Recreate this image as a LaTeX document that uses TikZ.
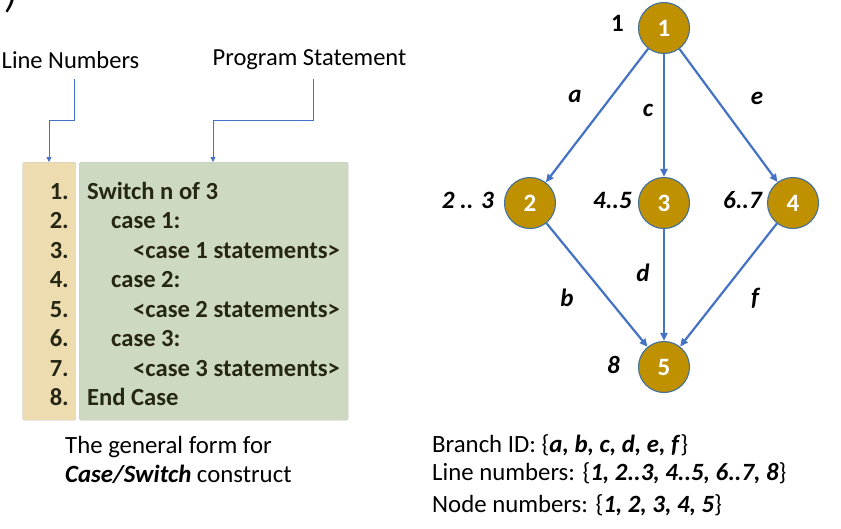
\documentclass[tikz,border=0pt]{standalone}
\usepackage{fontspec}
\setmainfont{Carlito}
\usetikzlibrary{arrows.meta}
\definecolor{tanbox}{RGB}{236,220,176}
\definecolor{greenbox}{RGB}{205,218,193}
\definecolor{boxline}{RGB}{200,200,200}
\definecolor{codetext}{RGB}{38,38,20}
\definecolor{edgeblue}{RGB}{68,114,196}
\definecolor{nodegold}{RGB}{191,144,0}
\definecolor{nodeline}{RGB}{65,113,156}
\tikzset{
  codefont/.style={font=\fontsize{24.6}{28}\selectfont\bfseries, text=codetext, inner sep=0pt},
  numtext/.style={codefont, anchor=base east},
  stmt/.style={codefont, anchor=base west},
  plaintext/.style={font=\fontsize{24.8}{28}\selectfont, inner sep=0pt},
  callout/.style={draw=edgeblue, line width=0.8pt, -{Triangle[length=5pt,width=5pt]}},
  gnode/.style={circle, fill=nodegold, draw=nodeline, line width=1.1pt, minimum size=51pt, inner sep=0pt, text=white, font=\fontsize{25}{28}\selectfont\bfseries},
  gedge/.style={draw=edgeblue, line width=2.2pt, -{Triangle[length=8pt,width=7pt]}},
  elabel/.style={font=\fontsize{25}{28}\selectfont\bfseries\itshape, inner sep=0pt},
  linelabel/.style={font=\fontsize{25}{28}\selectfont\bfseries\itshape, inner sep=0pt, anchor=base east},
}
\begin{document}
\begin{tikzpicture}[x=1pt,y=-1pt]
\useasboundingbox (0,0) rectangle (841,528);
% cut-off parenthesis at top
\node[font=\fontsize{40}{44}\selectfont\itshape, inner sep=0pt, anchor=base] (paren) at (12,7) {)};
% boxes
\node[draw=boxline, fill=tanbox, rounded corners=1.5pt, minimum width=53pt, minimum height=258pt, inner sep=0pt, anchor=north west] (numbox) at (22.5,162) {};
\node[draw=boxline, fill=greenbox, rounded corners=1.5pt, minimum width=269pt, minimum height=258pt, inner sep=0pt, anchor=north west] (stmtbox) at (79,162) {};
% line numbers
\node[numtext] (n1) at (69,199) {1.};
\node[numtext] (n2) at (69,228.5) {2.};
\node[numtext] (n3) at (69,258) {3.};
\node[numtext] (n4) at (69,287.5) {4.};
\node[numtext] (n5) at (69,317) {5.};
\node[numtext] (n6) at (69,346.5) {6.};
\node[numtext] (n7) at (69,376) {7.};
\node[numtext] (n8) at (69,405.5) {8.};
% statements
\node[stmt] (s1) at (87,199) {Switch n of 3};
\node[stmt] (s2) at (111,228.5) {case 1:};
\node[stmt] (s3) at (133,258) {<case 1 statements>};
\node[stmt] (s4) at (111,287.5) {case 2:};
\node[stmt] (s5) at (133,317) {<case 2 statements>};
\node[stmt] (s6) at (111,346.5) {case 3:};
\node[stmt] (s7) at (133,376) {<case 3 statements>};
\node[stmt] (s8) at (87,405.5) {End Case};
% callout labels
\node[plaintext, font=\fontsize{24.5}{28}\selectfont] (lnlab) at (70.5,60) {Line Numbers};
\node[plaintext, font=\fontsize{24.5}{28}\selectfont] (pslab) at (309.5,60) {Program Statement};
\coordinate (lnstart) at (74,79);
\coordinate (psstart) at (313,79);
\coordinate (lnend) at (49,162);
\coordinate (psend) at (213,162);
\draw[callout] (lnstart) -- (74,120) -- (49,120) -- (lnend);
\draw[callout] (psstart) -- (313,120) -- (213,120) -- (psend);
% caption
\node[plaintext, anchor=base west] (cap1) at (65,453) {The general form for};
\node[plaintext, anchor=base west] (cap2) at (65,482) {\textbf{\textit{Case/Switch}} construct};
% graph
\node[gnode] (g1) at (664,28) {1};
\node[gnode] (g2) at (530,203) {2};
\node[gnode] (g3) at (664,203) {3};
\node[gnode] (g4) at (793,203) {4};
\node[gnode] (g5) at (664,367) {5};
\draw[gedge] (g1) -- (g2);
\draw[gedge] (g1) -- (g3);
\draw[gedge] (g1) -- (g4);
\draw[gedge] (g2) -- (g5);
\draw[gedge] (g3) -- (g5);
\draw[gedge] (g4) -- (g5);
% edge labels
\node[elabel] (la) at (575,96) {a};
\node[elabel] (lc) at (648,110) {c};
\node[elabel] (le) at (757,98) {e};
\node[elabel] (lb) at (567,298) {b};
\node[elabel] (ld) at (643,273) {d};
\node[elabel] (lf) at (755,298) {f};
% line-number labels
\node[font=\fontsize{25}{28}\selectfont\bfseries, inner sep=0pt, anchor=base east] (l1) at (624,31) {1};
\node[linelabel] (l2) at (494,208) {2 .. 3};
\node[linelabel] (l3) at (632,208) {4..5};
\node[linelabel] (l4) at (762,208) {6..7};
\node[linelabel] (l5) at (620,373) {8};
% summary
\node[plaintext, anchor=base west] (t1) at (432,452) {Branch ID: \{\textbf{\textit{a, b, c, d, e, f}}\}};
\node[plaintext, anchor=base west] (t2) at (432,480) {Line numbers: \{\textbf{\textit{1, 2..3, 4..5, 6..7, 8}}\}};
\node[plaintext, anchor=base west] (t3) at (432,512) {Node numbers: \{\textbf{\textit{1, 2, 3, 4, 5}}\}};
\end{tikzpicture}
\end{document}
